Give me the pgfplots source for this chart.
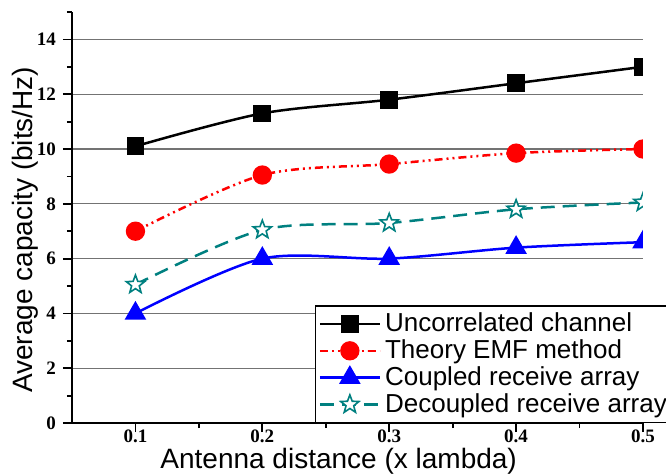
\documentclass[border=0pt]{standalone}
\usepackage{fontspec}
\setmainfont{Liberation Sans}
\newfontfamily\tnr{Liberation Serif}
\usepackage{pgfplots}
\pgfplotsset{compat=1.18}
\definecolor{tealc}{RGB}{0,128,128}

% open five-pointed star
\pgfdeclareplotmark{ostar}{%
  \pgfpathmoveto{\pgfpointpolar{90}{\pgfplotmarksize}}%
  \pgfpathlineto{\pgfpointpolar{126}{0.42\pgfplotmarksize}}%
  \pgfpathlineto{\pgfpointpolar{162}{\pgfplotmarksize}}%
  \pgfpathlineto{\pgfpointpolar{198}{0.42\pgfplotmarksize}}%
  \pgfpathlineto{\pgfpointpolar{234}{\pgfplotmarksize}}%
  \pgfpathlineto{\pgfpointpolar{270}{0.42\pgfplotmarksize}}%
  \pgfpathlineto{\pgfpointpolar{306}{\pgfplotmarksize}}%
  \pgfpathlineto{\pgfpointpolar{342}{0.42\pgfplotmarksize}}%
  \pgfpathlineto{\pgfpointpolar{18}{\pgfplotmarksize}}%
  \pgfpathlineto{\pgfpointpolar{54}{0.42\pgfplotmarksize}}%
  \pgfpathclose
  \pgfusepathqfillstroke
}

\begin{document}
\begin{tikzpicture}
\begin{axis}[
    scale only axis,
    width=285.5pt, height=205.5pt,
    xmin=0.05, xmax=0.5, ymin=0, ymax=15,
    axis x line*=bottom, axis y line*=left,
    axis line style={line width=0.9pt},
    xtick={0.1,0.2,0.3,0.4,0.5}, minor xtick={0.15,0.25,0.35,0.45},
    ytick={0,2,...,14}, minor ytick={1,3,...,15},
    tick align=outside, major tick length=4.5pt, minor tick length=2.5pt,
    tick style={black, line width=0.9pt},
    ymajorgrids, major grid style={black!55, line width=0.6pt},
    xticklabel style={/pgf/number format/fixed, /pgf/number format/precision=1, yshift=4.5pt},
    tick label style={font=\tnr\bfseries\fontsize{9.5}{10}\selectfont},
    /pgf/number format/assume math mode=true,
    xlabel={Antenna distance (x lambda)},
    ylabel={Average capacity (bits/Hz)},
    label style={font=\fontsize{14}{15}\selectfont},
    xlabel style={at={(axis description cs:0.467,-0.092)}, anchor=center},
    ylabel style={at={(axis description cs:-0.082,0.47)}, anchor=center},
    clip marker paths=true,
    every axis plot/.append style={line width=1.25pt, smooth},
    legend cell align=left,
    legend style={at={(rel axis cs:0.4256,0)}, anchor=south west,
        draw=black, line width=0.6pt, fill=white,
        font=\fontsize{13}{14}\selectfont, row sep=-1.5pt, inner sep=1.5pt},
    legend image code/.code={
        \draw[mark repeat=2, mark phase=2] plot coordinates {(0pt,0pt) (15pt,0pt) (30pt,0pt)};},
]
\addplot[black, mark=square*, mark size=3.8pt, mark options={solid}]
    coordinates {(0.1,10.1) (0.2,11.3) (0.3,11.8) (0.4,12.4) (0.5,13.0)};
\addlegendentry{Uncorrelated channel}
\addplot[red, mark=*, mark size=4.2pt, mark options={solid},
    dash pattern=on 4pt off 2pt on 1pt off 2pt on 1pt off 2pt]
    coordinates {(0.1,7.0) (0.2,9.05) (0.3,9.45) (0.4,9.85) (0.5,10.0)};
\addlegendentry{Theory EMF method}
\addplot[blue, mark=triangle*, mark size=5pt, mark options={solid}]
    coordinates {(0.1,4.0) (0.2,6.0) (0.3,6.0) (0.4,6.4) (0.5,6.6)};
\addlegendentry{Coupled receive array}
\addplot[tealc, mark=ostar, mark size=4.8pt,
    mark options={solid, fill=white, line width=0.8pt},
    dash pattern=on 7pt off 4pt]
    coordinates {(0.1,5.05) (0.2,7.05) (0.3,7.3) (0.4,7.8) (0.5,8.05)};
\addlegendentry{Decoupled receive array}
\end{axis}
\pgfresetboundingbox
\useasboundingbox (-36pt,-25pt) rectangle (297pt,211.5pt);
\end{tikzpicture}
\end{document}
